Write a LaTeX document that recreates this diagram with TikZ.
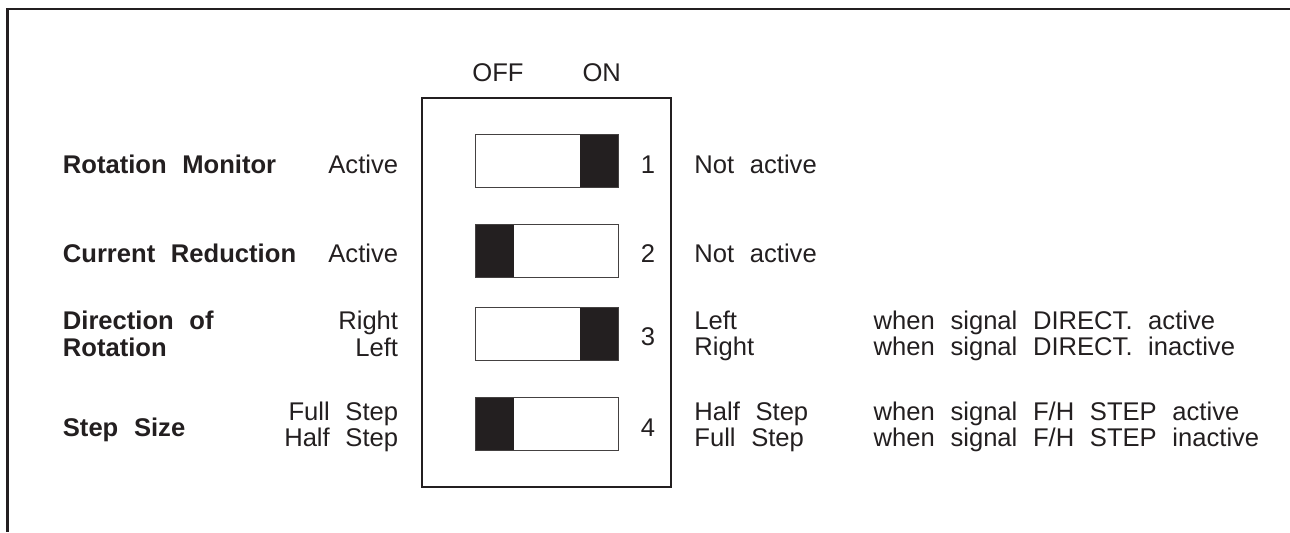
\documentclass[tikz,border=0pt]{standalone}
\usepackage{fontspec}
\setmainfont{Liberation Sans}[WordSpace=2.2]
\usepackage{xcolor}
\usepackage{tikz}
\usetikzlibrary{positioning}
\definecolor{inkBlack}{RGB}{35,31,32}
\tikzset{
  labelText/.style={
    inner sep=0pt,
    text=inkBlack,
    font=\fontsize{12.8}{13}\selectfont
  },
  titleText/.style={
    labelText,
    anchor=base west,
    font=\fontsize{12.8}{13}\selectfont\bfseries
  },
  offText/.style={
    labelText,
    anchor=base east
  },
  onText/.style={
    labelText,
    anchor=base west
  },
  numText/.style={
    labelText,
    anchor=base
  },
  housingBox/.style={
    draw=inkBlack,
    line width=1pt
  },
  slotBox/.style={
    draw=inkBlack!85,
    line width=0.5pt
  },
  knobBox/.style={
    fill=inkBlack
  }
}

\begin{document}
\begin{tikzpicture}[x=0.5pt,y=-0.5pt]
        \useasboundingbox (0,0) rectangle (1290,532);
        % outer frame (cut at right and bottom)
        \draw[line width=1.25pt, inkBlack] (1290,9) -- (7.5,9) -- (7.5,532);

        % switch housing
        \draw[housingBox] (422,97.5) rectangle (670.5,486.5);
        \node[numText] (off) at (498,81.7) {OFF};
        \node[numText] (on) at (601.7,81.7) {ON};

        % switches
        \foreach \yy/\kx in {134.3/580, 224.3/475, 307.3/580, 397.3/475} {
          \fill[knobBox] (\kx,\yy) rectangle (\kx+38.7,\yy+53.5);
          \draw[slotBox] (475,\yy) rectangle (618.7,\yy+53.5);
        }
        \node[numText] (num1) at (648,173) {1};
        \node[numText] (num2) at (648,262.5) {2};
        \node[numText] (num3) at (648,345.5) {3};
        \node[numText] (num4) at (648,436.5) {4};

        % left side
        \node[titleText] (title1) at (62.5,173) {Rotation Monitor};
        \node[titleText] (title2) at (62.5,262) {Current Reduction};
        \node[titleText] (title3a) at (62.5,329.3) {Direction of};
        \node[titleText] (title3b) at (62.5,356) {Rotation};
        \node[titleText] (title4) at (62.5,436) {Step Size};

        \node[offText] (off1) at (398.5,173) {Active};
        \node[offText] (off2) at (398.5,262) {Active};
        \node[offText] (off3a) at (398.5,329.3) {Right};
        \node[offText] (off3b) at (398.5,356) {Left};
        \node[offText] (off4a) at (398.5,420) {Full Step};
        \node[offText] (off4b) at (398.5,446) {Half Step};

        % right side
        \node[onText] (on1) at (694,173) {Not active};
        \node[onText] (on2) at (694,262) {Not active};
        \node[onText] (on3a) at (694,329.3) {Left};
        \node[onText] (on3b) at (694,355.5) {Right};
        \node[onText] (on4a) at (694,420) {Half Step};
        \node[onText] (on4b) at (694,446) {Full Step};

        \node[onText] (cond3a) at (873.3,329.3) {when signal DIRECT. active};
        \node[onText] (cond3b) at (873.3,355.5) {when signal DIRECT. inactive};
        \node[onText] (cond4a) at (873.3,420) {when signal F/H STEP active};
        \node[onText] (cond4b) at (873.3,446) {when signal F/H STEP inactive};

    \end{tikzpicture}
\end{document}
